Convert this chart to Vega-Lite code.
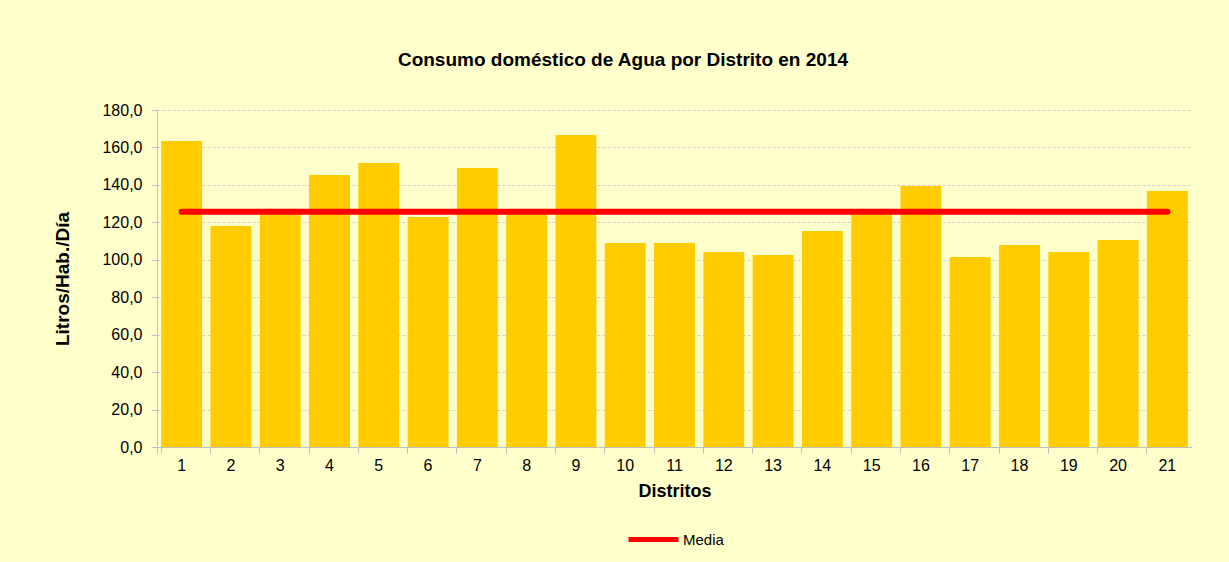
{
  "$schema": "https://vega.github.io/schema/vega-lite/v6.json",
  "width": 1035,
  "height": 337,
  "autosize": {"type": "none"},
  "padding": {"left": 157, "top": 110, "right": 37, "bottom": 115},
  "background": "#FFFFCC",
  "title": {
    "text": "Consumo doméstico de Agua por Distrito en 2014",
    "font": "Liberation Sans",
    "fontSize": 19,
    "fontWeight": "bold",
    "color": "#000000",
    "anchor": "middle",
    "frame": "bounds",
    "offset": 32
  },
  "data": {
    "values": [
      {"distrito": 1, "consumo": 163.5, "media": 125.7, "serie": "Media"},
      {"distrito": 2, "consumo": 118.0, "media": 125.7, "serie": "Media"},
      {"distrito": 3, "consumo": 125.0, "media": 125.7, "serie": "Media"},
      {"distrito": 4, "consumo": 145.3, "media": 125.7, "serie": "Media"},
      {"distrito": 5, "consumo": 151.7, "media": 125.7, "serie": "Media"},
      {"distrito": 6, "consumo": 122.9, "media": 125.7, "serie": "Media"},
      {"distrito": 7, "consumo": 149.0, "media": 125.7, "serie": "Media"},
      {"distrito": 8, "consumo": 126.0, "media": 125.7, "serie": "Media"},
      {"distrito": 9, "consumo": 166.7, "media": 125.7, "serie": "Media"},
      {"distrito": 10, "consumo": 109.0, "media": 125.7, "serie": "Media"},
      {"distrito": 11, "consumo": 109.0, "media": 125.7, "serie": "Media"},
      {"distrito": 12, "consumo": 104.2, "media": 125.7, "serie": "Media"},
      {"distrito": 13, "consumo": 102.6, "media": 125.7, "serie": "Media"},
      {"distrito": 14, "consumo": 115.4, "media": 125.7, "serie": "Media"},
      {"distrito": 15, "consumo": 127.0, "media": 125.7, "serie": "Media"},
      {"distrito": 16, "consumo": 139.4, "media": 125.7, "serie": "Media"},
      {"distrito": 17, "consumo": 101.5, "media": 125.7, "serie": "Media"},
      {"distrito": 18, "consumo": 107.9, "media": 125.7, "serie": "Media"},
      {"distrito": 19, "consumo": 104.2, "media": 125.7, "serie": "Media"},
      {"distrito": 20, "consumo": 110.6, "media": 125.7, "serie": "Media"},
      {"distrito": 21, "consumo": 136.8, "media": 125.7, "serie": "Media"}
    ]
  },
  "encoding": {
    "x": {
      "field": "distrito",
      "type": "ordinal",
      "title": "Distritos",
      "scale": {"paddingInner": 0.17, "paddingOuter": 0.085},
      "axis": {
        "labelAngle": 0,
        "bandPosition": 0,
        "tickExtra": true,
        "domainColor": "#BFBFBF",
        "tickColor": "#BFBFBF",
        "tickSize": 6,
        "labelPadding": 4,
        "labelFontSize": 16,
        "titleFontSize": 18,
        "titlePadding": 9,
        "grid": false
      }
    }
  },
  "layer": [
    {
      "mark": {"type": "bar", "color": "#FFCC00"},
      "encoding": {
        "y": {
          "field": "consumo",
          "type": "quantitative",
          "title": "Litros/Hab./Día",
          "scale": {"domain": [0, 180], "nice": false},
          "axis": {
            "values": [0, 20, 40, 60, 80, 100, 120, 140, 160, 180],
            "format": ".1f",
            "labelOverlap": false,
            "domainColor": "#BFBFBF",
            "tickColor": "#BFBFBF",
            "tickSize": 6,
            "labelPadding": 9,
            "labelFontSize": 16,
            "titleFontSize": 19,
            "titlePadding": 29,
            "grid": true,
            "gridColor": "#CFCFCF",
            "gridDash": [3, 2],
            "gridWidth": 1
          }
        }
      }
    },
    {
      "mark": {"type": "line", "strokeWidth": 6, "strokeCap": "round"},
      "encoding": {
        "y": {
          "field": "media",
          "type": "quantitative",
          "title": "Litros/Hab./Día",
          "scale": {"domain": [0, 180], "nice": false},
          "axis": {
            "values": [0, 20, 40, 60, 80, 100, 120, 140, 160, 180],
            "format": ".1f",
            "labelOverlap": false,
            "domainColor": "#BFBFBF",
            "tickColor": "#BFBFBF",
            "tickSize": 6,
            "labelPadding": 9,
            "labelFontSize": 16,
            "titleFontSize": 19,
            "titlePadding": 29,
            "grid": true,
            "gridColor": "#CFCFCF",
            "gridDash": [3, 2],
            "gridWidth": 1
          }
        },
        "color": {
          "field": "serie",
          "type": "nominal",
          "scale": {"domain": ["Media"], "range": ["#FF0000"]},
          "legend": {
            "title": null,
            "orient": "bottom",
            "offset": 12,
            "symbolType": "stroke",
            "symbolSize": 2500,
            "symbolStrokeWidth": 5,
            "labelFontSize": 15,
            "labelOffset": 2
          }
        }
      }
    }
  ],
  "config": {
    "locale": {
      "number": {"decimal": ",", "thousands": ".", "grouping": [3], "currency": ["", " €"]}
    },
    "font": "Liberation Sans",
    "view": {"stroke": null},
    "axis": {
      "labelFont": "Liberation Sans",
      "titleFont": "Liberation Sans",
      "labelColor": "#000000",
      "titleColor": "#000000",
      "titleFontWeight": "bold"
    },
    "legend": {
      "labelFont": "Liberation Sans",
      "labelColor": "#000000",
      "layout": {"bottom": {"anchor": "middle"}}
    }
  }
}
